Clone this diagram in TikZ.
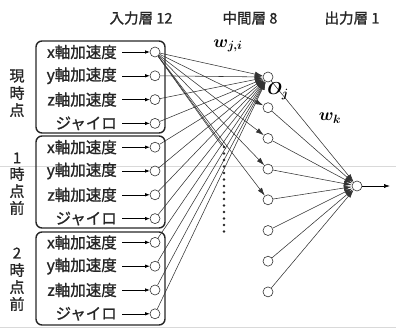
\documentclass[tikz,border=0pt]{standalone}
\usepackage{fontspec}
\setmainfont{Noto Sans CJK JP}
\newfontfamily\jpb[FakeBold=1.2]{Noto Sans CJK JP}
\usetikzlibrary{arrows.meta}
\begin{document}
\begin{tikzpicture}[x=1pt,y=-1pt,
  neuron/.style={circle,draw=black!80,line width=0.6pt,minimum size=10pt,inner sep=0pt,fill=white},
  conn/.style={line width=0.55pt,draw=black!80},
  tipb/.style={-{Latex[length=8pt,width=5pt]}},
  grp/.style={draw=black!85,line width=1.4pt,rounded corners=6pt},
  lbl/.style={font=\jpb\fontsize{15.5}{15.5}\selectfont,inner sep=0pt,anchor=east,text=black!85},
  hdr/.style={font=\jpb\fontsize{14.5}{14.5}\selectfont,inner sep=0pt,text=black!85},
  vch/.style={font=\jpb\fontsize{15}{15}\selectfont,inner sep=0pt,text=black!85},
  mlab/.style={inner sep=0pt,font=\fontsize{17}{17}\selectfont\boldmath}
]
\useasboundingbox (0,0) rectangle (396,329);
% faint page lines
\draw[black!15,line width=0.8pt] (0,166) -- (396,166);
\draw[black!15,line width=0.8pt] (0,327) -- (396,327);
% group boxes
\draw[grp] (36,41) rectangle (165,133);
\draw[grp] (36,136) rectangle (165,228);
\draw[grp] (36,232) rectangle (165,325);
% headers
\node[hdr] (hin) at (141,18) {入力層 12};
\node[hdr] (hmid) at (250,18) {中間層 8};
\node[hdr] (hout) at (352,18) {出力層 1};
% side labels
\node[vch] (g1a) at (17,76) {現};
\node[vch] (g1b) at (17,93) {時};
\node[vch] (g1c) at (17,110) {点};
\node[vch] (g2a) at (17,158) {1};
\node[vch] (g2b) at (17,174) {時};
\node[vch] (g2c) at (17,191) {点};
\node[vch] (g2d) at (17,208) {前};
\node[vch] (g3a) at (17,253) {2};
\node[vch] (g3b) at (17,270) {時};
\node[vch] (g3c) at (17,287) {点};
\node[vch] (g3d) at (17,304) {前};
% input nodes and labels
\foreach \t [count=\n] in {x軸加速度,y軸加速度,z軸加速度,ジャイロ,x軸加速度,y軸加速度,z軸加速度,ジャイロ,x軸加速度,y軸加速度,z軸加速度,ジャイロ}{
  \pgfmathsetmacro{\yy}{52+23.8*(\n-1)}
  \node[neuron] (in\n) at (155,\yy) {};
  \node[lbl] (t\n) at (117,\yy) {\t};
  \draw[line width=0.6pt,-{Latex[length=4.5pt,width=3.5pt]},shorten <=5pt] (t\n.east) -- (in\n.west);
}
% hidden nodes
\foreach \n in {1,...,8}{
  \pgfmathsetmacro{\yy}{77+30.7*(\n-1)}
  \node[neuron] (h\n) at (268,\yy) {};
}
% output node
\node[neuron] (o) at (357,186) {};
\coordinate (oe) at (390,186);
\coordinate (d1) at (222,146);
\coordinate (d2) at (226,149);
% connections input -> hidden
\foreach \n in {1,...,12}{
  \draw[conn,tipb] (in\n) -- (h1);
}
\foreach \n in {2,...,5}{
  \draw[conn,tipb] (in1) -- (h\n);
}
\draw[conn] (in1) -- (d1);
\draw[conn] (in1) -- (d2);
% hidden -> output
\foreach \n in {1,...,8}{
  \draw[conn,tipb] (h\n) -- (o);
}
\draw[line width=0.6pt,-{Latex[length=6pt,width=4pt]}] (o) -- (oe);
% dots
\foreach \k in {0,...,13}{
  \fill[black!85] (224,147+6.5*\k) circle (1.3pt);
}
% math labels
\node[mlab] (wji) at (228,46) {$w_{j,i}$};
\node[mlab] (oj) at (278,91) {$O_j$};
\node[mlab] (wk) at (330,118) {$w_k$};
\end{tikzpicture}
\end{document}
